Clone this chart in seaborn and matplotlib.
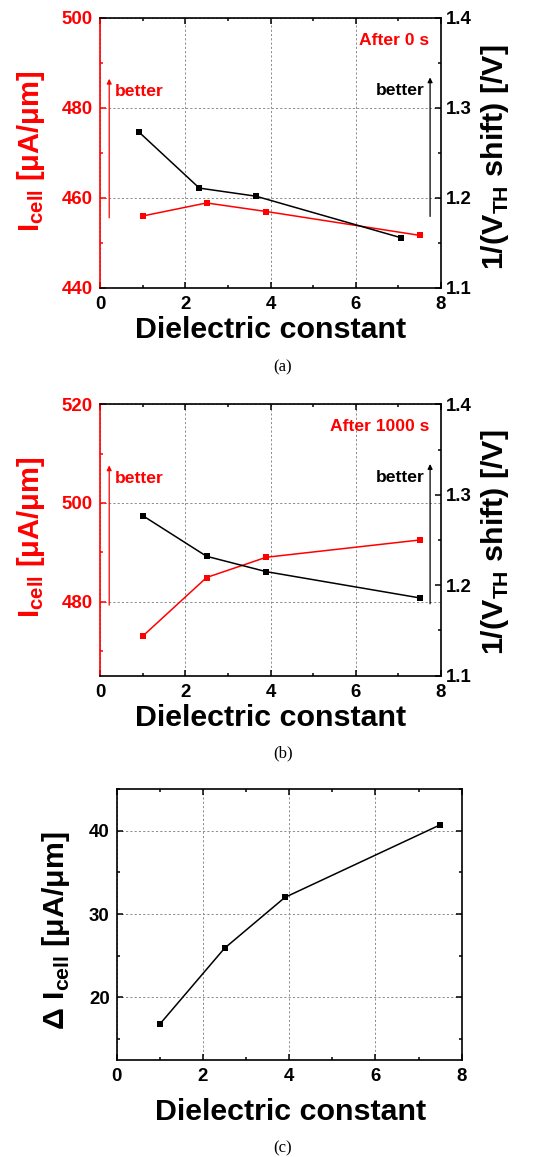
import matplotlib
matplotlib.use("Agg")
import matplotlib.pyplot as plt
from matplotlib import font_manager
from matplotlib.ticker import MultipleLocator, FixedLocator, FormatStrFormatter
import seaborn as sns

# ---- data -------------------------------------------------------------
# (a) after 0 s of stress
k_icell_0 = [1.0, 2.5, 3.9, 7.5]
icell_0 = [456.0, 458.9, 457.0, 451.7]
k_vth_0 = [0.92, 2.33, 3.66, 7.05]
inv_vth_0 = [1.273, 1.211, 1.202, 1.156]

# (b) after 1000 s of stress
k_icell_1000 = [1.0, 2.5, 3.9, 7.5]
icell_1000 = [473.0, 484.9, 489.0, 492.5]
k_vth_1000 = [1.0, 2.5, 3.9, 7.5]
inv_vth_1000 = [1.277, 1.232, 1.215, 1.186]

# (c) cell-current degradation
k_delta = [1.0, 2.5, 3.9, 7.5]
delta_icell = [16.8, 25.9, 32.0, 40.7]

x_ticks = [0, 2, 4, 6, 8]
icell_ticks_0 = [440, 460, 480, 500]
icell_ticks_1000 = [480, 500, 520]
vth_ticks = [1.1, 1.2, 1.3, 1.4]
delta_ticks = [20, 30, 40]

RED = "#ff0000"


def pick_family():
    for fam in ["Liberation Sans Narrow", "Arial Narrow"]:
        try:
            font_manager.findfont(font_manager.FontProperties(family=fam),
                                  fallback_to_default=False)
            return fam, 1.0
        except ValueError:
            pass
    return "Liberation Sans", 0.84


sns.set_style("ticks")
FAM, S = pick_family()
plt.rcParams["font.family"] = [FAM, "DejaVu Sans"]
plt.rcParams["font.weight"] = "bold"
plt.rcParams["mathtext.fontset"] = "custom"
plt.rcParams["mathtext.bf"] = f"{FAM}:bold"
plt.rcParams["mathtext.rm"] = f"{FAM}:bold"
plt.rcParams["axes.linewidth"] = 1.2
for key in ("text.color", "axes.labelcolor", "xtick.color", "ytick.color",
            "axes.edgecolor", "xtick.labelcolor", "ytick.labelcolor"):
    plt.rcParams[key] = "black"

W, H = 556, 1157
fig = plt.figure(figsize=(W / 100, H / 100), dpi=100)

TICK_FS = 16 * S
LABEL_FS = 26 * S
YLABEL_FS = 25 * S
RLABEL_FS = 26 * S
NOTE_FS = 15 * S
GRID = dict(color="#8c8c8c", ls=(0, (2.2, 2.2)), lw=0.7)
LINE = dict(marker="s", markersize=4.4, markeredgewidth=0, lw=1.1)


def frac(left, top, right, bottom):
    return [left / W, 1 - bottom / H, (right - left) / W, (bottom - top) / H]


def style_common(ax):
    ax.set_xlim(0, 8)
    ax.xaxis.set_major_locator(FixedLocator(x_ticks))
    ax.xaxis.set_minor_locator(MultipleLocator(1))
    ax.grid(True, which="major", **GRID)
    ax.set_axisbelow(True)
    ax.tick_params(which="both", direction="in", top=True, right=False,
                   labelsize=TICK_FS, width=1.1, colors="black", labelcolor="black")
    ax.tick_params(which="major", length=4)
    ax.tick_params(which="minor", length=2.5)
    ax.tick_params(axis="x", pad=6)
    ax.tick_params(axis="y", pad=5)
    for lab in ax.get_xticklabels() + ax.get_yticklabels():
        lab.set_fontweight("bold")


def dual_panel(rect, kx_i, yi, kx_v, yv, ylim_i, yticks_i, stamp,
               ylab_y, rlab_y, xlab_y):
    ax = fig.add_axes(rect)
    sns.lineplot(x=kx_i, y=yi, ax=ax, color=RED, markeredgecolor=RED, **LINE)
    ax.set_ylim(*ylim_i)
    ax.yaxis.set_major_locator(FixedLocator(yticks_i))
    ax.yaxis.set_minor_locator(MultipleLocator(10))
    style_common(ax)
    ax.spines["left"].set_color(RED)
    ax.spines["right"].set_visible(False)
    ax.tick_params(axis="y", which="both", colors=RED, labelcolor=RED)

    ax2 = ax.twinx()
    sns.lineplot(x=kx_v, y=yv, ax=ax2, color="black", markeredgecolor="black", **LINE)
    ax2.set_ylim(1.1, 1.4)
    ax2.yaxis.set_major_locator(FixedLocator(vth_ticks))
    ax2.yaxis.set_minor_locator(MultipleLocator(0.05))
    ax2.tick_params(which="both", direction="in", labelsize=TICK_FS, pad=3.5,
                    width=1.1, colors="black", labelcolor="black")
    ax2.tick_params(which="major", length=4)
    ax2.tick_params(which="minor", length=2.5)
    ax2.yaxis.set_major_formatter(FormatStrFormatter("%.1f"))
    for side in ("left", "top", "bottom"):
        ax2.spines[side].set_visible(False)
    ax2.spines["right"].set_color("black")
    for lab in ax2.get_yticklabels():
        lab.set_fontweight("bold")

    ax.set_xlabel("Dielectric constant", fontsize=LABEL_FS, fontweight="bold",
                  color="black")
    ax.xaxis.set_label_coords(0.5, xlab_y)
    ax.set_ylabel(r"$\mathbf{I}_{\mathbf{cell}}$ [μA/μm]", fontsize=YLABEL_FS,
                  fontweight="bold", color=RED)
    ax.yaxis.set_label_coords(-0.155, ylab_y)
    ax2.set_ylabel(r"1/(V$_{\mathbf{TH}}$ shift) [/V]", fontsize=RLABEL_FS,
                   fontweight="bold", color="black")
    ax2.yaxis.set_label_coords(1.11, rlab_y)

    arrow_red = dict(arrowstyle="-|>", color=RED, lw=0.9, mutation_scale=7,
                     shrinkA=0, shrinkB=0)
    arrow_blk = dict(arrowstyle="-|>", color="black", lw=0.9, mutation_scale=7,
                     shrinkA=0, shrinkB=0)
    ax2.annotate("", xy=(0.027, 0.775), xytext=(0.027, 0.26),
                 xycoords="axes fraction", arrowprops=arrow_red)
    ax2.annotate("", xy=(0.968, 0.78), xytext=(0.968, 0.265),
                 xycoords="axes fraction", arrowprops=arrow_blk)
    ax2.text(0.044, 0.727, "better", transform=ax2.transAxes, color=RED,
             fontsize=NOTE_FS, fontweight="bold", ha="left", va="center")
    ax2.text(0.953, 0.73, "better", transform=ax2.transAxes, color="black",
             fontsize=NOTE_FS, fontweight="bold", ha="right", va="center")
    ax2.text(0.965, 0.918, stamp, transform=ax2.transAxes, color=RED,
             fontsize=NOTE_FS, fontweight="bold", ha="right", va="center")
    return ax, ax2


dual_panel(frac(100, 18, 441, 288), k_icell_0, icell_0, k_vth_0, inv_vth_0,
           (440, 500), icell_ticks_0, "After 0 s", 0.507, 0.485, -0.105)
dual_panel(frac(100, 404.3, 441, 675.7), k_icell_1000, icell_1000, k_vth_1000,
           inv_vth_1000, (465, 520), icell_ticks_1000, "After 1000 s", 0.509, 0.493, -0.105)

# (c) single-axis panel
axc = fig.add_axes(frac(116.7, 789, 461.7, 1060))
sns.lineplot(x=k_delta, y=delta_icell, ax=axc, color="black", markeredgecolor="black", **LINE)
axc.set_ylim(12.5, 45)
axc.yaxis.set_major_locator(FixedLocator(delta_ticks))
axc.yaxis.set_minor_locator(MultipleLocator(5))
style_common(axc)
axc.tick_params(which="both", right=True)
axc.set_xlabel("Dielectric constant", fontsize=LABEL_FS, fontweight="bold", color="black")
axc.xaxis.set_label_coords(0.505, -0.14)
axc.set_ylabel(r"Δ $\mathbf{I}_{\mathbf{cell}}$ [μA/μm]", fontsize=RLABEL_FS,
               fontweight="bold", color="black")
axc.yaxis.set_label_coords(-0.13, 0.478)

for txt, y in (("(a)", 367), ("(b)", 753), ("(c)", 1148)):
    fig.text(283 / W, 1 - y / H, txt, ha="center", va="center", fontsize=12,
             family="Liberation Serif", fontweight="normal", color="black")

fig.savefig("out.png", dpi=100)
